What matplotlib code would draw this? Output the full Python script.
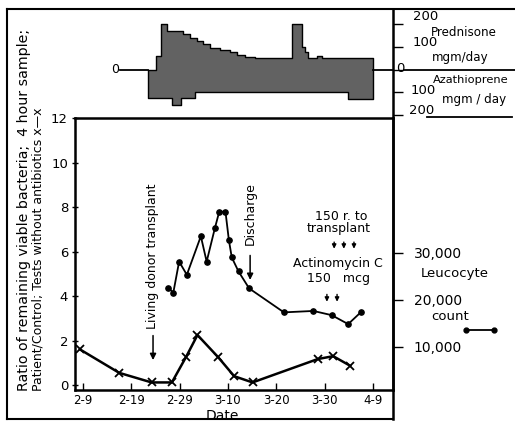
import numpy as np
import matplotlib
matplotlib.use('Agg')
import matplotlib.pyplot as plt
from matplotlib.lines import Line2D

W, H = 515, 422

# days counted from Feb 9 (1964)
date_ticks = [0, 10, 20, 30, 40, 50, 60]
date_labels = ['2-9', '2-19', '2-29', '3-10', '3-20', '3-30', '4-9']

# bacteria ratio, tests without antibiotics (x--x)
bact_day = [-0.6, 7.5, 14.2, 18.4, 21.3, 23.7, 28.0, 31.3, 35.1, 48.6, 51.8, 55.3]
bact_ratio = [1.6, 0.55, 0.12, 0.12, 1.25, 2.25, 1.25, 0.4, 0.12, 1.17, 1.3, 0.87]

# leucocyte count (o--o)
leu_day = [17.7, 18.7, 19.9, 21.5, 24.4, 25.6, 27.3, 28.2, 29.5, 30.2, 30.8, 32.2,
           34.4, 41.6, 47.7, 51.5, 54.9, 57.6]
leu_count = [22500, 21500, 28100, 25300, 33500, 28100, 35200, 38700, 38700, 32700,
             29000, 26000, 22400, 17300, 17600, 16700, 14800, 17400]
leu_ticks = [10000, 20000, 30000]

# drugs, step starts (mgm/day); last value closes the step
pred_day = [13.5, 15.1, 16.1, 17.4, 20.7, 22.2, 23.6, 24.8, 26.3, 28.4, 30.4, 31.9,
            33.5, 35.6, 43.3, 45.3, 46.0, 46.6, 48.4, 49.5, 60.0]
pred_mg = [0, 60, 200, 170, 155, 140, 125, 110, 95, 85, 75, 65, 55, 50, 200, 100,
           75, 50, 60, 50, 50]
aza_day = [13.5, 18.4, 20.3, 23.2, 54.9, 60.0]
aza_mg = [125, 155, 125, 100, 130, 130]

# events
transplant_day = 14.5
discharge_day = 34.6
radiation_days = [52.0, 54.0, 56.1]
actino_days = [50.5, 52.6]

plt.rcParams['font.family'] = ['DejaVu Sans']

fig = plt.figure(figsize=(W / 100, H / 100), dpi=100)


def fx(x):
    return x / W


def fy(y):
    return 1 - y / H


def fline(x0, y0, x1, y1, lw=1.5):
    fig.add_artist(Line2D([fx(x0), fx(x1)], [fy(y0), fy(y1)],
                          transform=fig.transFigure, color='black', lw=lw))


day0_px, px_per_day = 83.0, 4.83


def px2day(x):
    return (x - day0_px) / px_per_day


# ---- drug panel on top
ax_top = fig.add_axes([fx(7), fy(118), fx(393) - fx(7), fy(9) - fy(118)])
ax_top.set_xlim(px2day(7), px2day(393))
ax_top.set_ylim(-213, 266)
for s in ax_top.spines.values():
    s.set_visible(False)
ax_top.set_xticks([])
ax_top.yaxis.tick_right()
ax_top.set_yticks([200, 100, 0, -100, -200])
ax_top.set_yticklabels([])
ax_top.tick_params(axis='y', direction='out', length=7, width=1)

xs = np.union1d(pred_day, aza_day)
top = np.array(pred_mg)[np.searchsorted(pred_day, xs, side='right') - 1]
bot = -np.array(aza_mg)[np.searchsorted(aza_day, xs, side='right') - 1]
ax_top.fill_between(xs, bot, top, step='post', facecolor='#626262',
                    edgecolor='black', lw=1.0)
ax_top.plot([px2day(120), pred_day[0]], [0, 0], color='black', lw=1.3)
ax_top.plot([pred_day[-1], px2day(393)], [0, 0], color='black', lw=1.3)
ax_top.text(px2day(119), 0, '0', ha='right', va='center', fontsize=9)

# ---- main panel
ax = fig.add_axes([fx(75), fy(390), fx(393) - fx(75), fy(118) - fy(390)])
ax.set_xlim(px2day(75), px2day(393))
ax.set_ylim(-0.22, 11.98)
for s in ax.spines.values():
    s.set_linewidth(1.8)
ax.set_yticks([0, 2, 4, 6, 8, 10, 12])
ax.set_xticks(date_ticks)
ax.set_xticklabels(date_labels)
ax.tick_params(axis='y', direction='inout', length=4, width=1, pad=3, labelsize=9.5)
ax.tick_params(axis='x', direction='in', length=5, width=1, pad=3, labelsize=8.5)

ax.plot(bact_day, bact_ratio, color='black', lw=1.8, marker='x', ms=5.5, mew=1.3)

ax2 = ax.twinx()
ax2.set_ylim(776, 58664)
for s in ax2.spines.values():
    s.set_visible(False)
ax2.set_yticks(leu_ticks)
ax2.set_yticklabels(['{:,}'.format(v) for v in leu_ticks])
ax2.tick_params(axis='y', direction='out', length=7, width=1, pad=8, labelsize=10)
ax2.plot(leu_day, leu_count, color='black', lw=1.3, marker='o', ms=3.8)

# event arrows and notes
arw = dict(arrowstyle='-|>', color='black', lw=1.1, mutation_scale=9)
ax.annotate('', xy=(transplant_day, 1.0), xytext=(transplant_day, 2.35), arrowprops=arw)
ax.text(transplant_day - 0.1, 2.5, 'Living donor transplant', rotation=90,
        ha='center', va='bottom', fontsize=9)
ax.annotate('', xy=(discharge_day, 4.6), xytext=(discharge_day, 5.95), arrowprops=arw)
ax.text(discharge_day, 6.3, 'Discharge', rotation=90, ha='center', va='bottom', fontsize=9)

small = dict(arrowstyle='-|>', color='black', lw=1.0, mutation_scale=6)
for d in radiation_days:
    ax.annotate('', xy=(d, 6.0), xytext=(d, 6.55), arrowprops=small)
for d in actino_days:
    ax.annotate('', xy=(d, 3.62), xytext=(d, 4.2), arrowprops=small)
ax.text(53.4, 7.58, '150 r. to', ha='center', va='center', fontsize=9)
ax.text(52.9, 7.04, 'transplant', ha='center', va='center', fontsize=9)
ax.text(52.8, 5.47, 'Actinomycin C', ha='center', va='center', fontsize=9)
ax.text(52.9, 4.8, '150   mcg', ha='center', va='center', fontsize=9)

# axis titles
fig.text(fx(222), fy(416), 'Date', ha='center', va='center', fontsize=10)
fig.text(fx(24), fy(391), 'Ratio of remaining viable bacteria;  4 hour sample;',
         rotation=90, ha='center', va='bottom', fontsize=10.2)
fig.text(fx(38), fy(391), 'Patient/Control; Tests without antibiotics x\u2014x',
         rotation=90, ha='center', va='bottom', fontsize=9)

# right-hand scale texts
fig.text(fx(413), fy(17), '200', ha='left', va='center', fontsize=9.5)
fig.text(fx(431), fy(32), 'Prednisone', ha='left', va='center', fontsize=8.6)
fig.text(fx(413), fy(43), '100', ha='left', va='center', fontsize=9.5)
fig.text(fx(432), fy(58), 'mgm/day', ha='left', va='center', fontsize=8.6)
fig.text(fx(396), fy(69), '0', ha='left', va='center', fontsize=9.5)
fig.text(fx(433), fy(80), 'Azathioprene', ha='left', va='center', fontsize=8.2)
fig.text(fx(411), fy(91), '100', ha='left', va='center', fontsize=9.5)
fig.text(fx(442), fy(100), 'mgm / day', ha='left', va='center', fontsize=8.6)
fig.text(fx(409), fy(111), '200', ha='left', va='center', fontsize=9.5)
fig.text(fx(455), fy(273), 'Leucocyte', ha='center', va='center', fontsize=9.5)
fig.text(fx(450), fy(317), 'count', ha='center', va='center', fontsize=9.5)
fig.add_artist(Line2D([fx(466), fx(494)], [fy(330), fy(330)], transform=fig.transFigure,
                      color='black', lw=1.3, marker='o', ms=3.5))

# frame lines
fline(7, 9, 515, 9)
fline(7, 9, 7, 419)
fline(7, 419, 393, 419)
fline(393, 9, 393, 419, lw=1.8)
fline(404, 70, 515, 70, lw=1.3)
fline(427, 117, 512, 117, lw=1.3)

fig.savefig('out.png', dpi=100)
